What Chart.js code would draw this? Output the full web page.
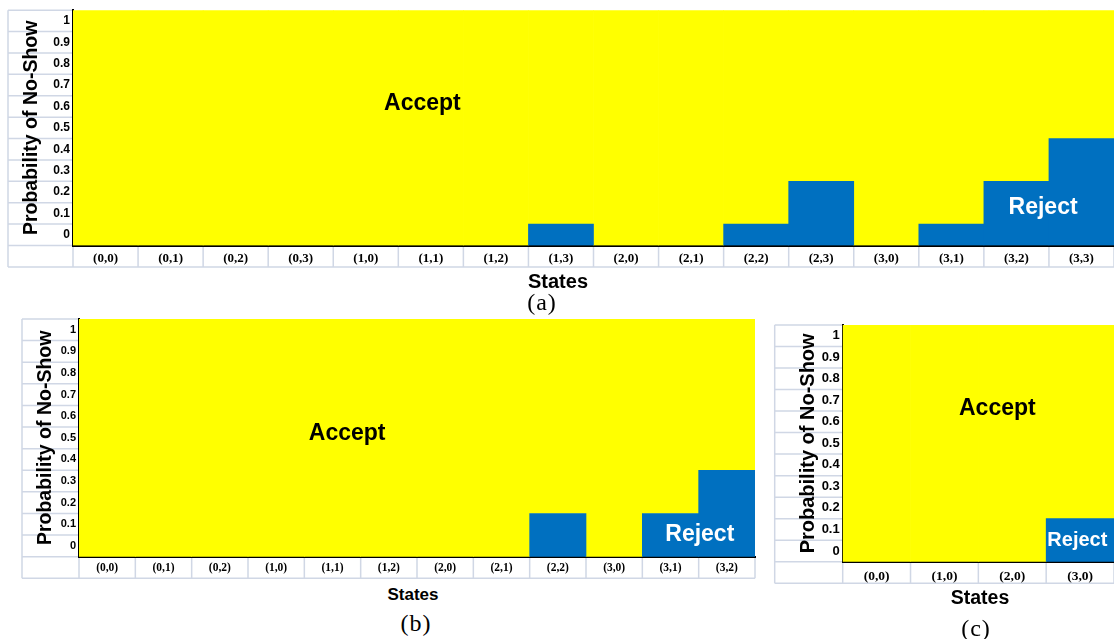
<!DOCTYPE html>
<html>
<head>
<meta charset="utf-8">
<script src="https://cdn.jsdelivr.net/npm/chart.js@4.4.1/dist/chart.umd.min.js"></script>
<style>
  html, body { margin: 0; padding: 0; background: #fff; }
  #page { position: relative; width: 1114px; height: 639px; overflow: hidden; background: #fff; }
  .box { position: absolute; }
  .box canvas { display: block; }
  .txt { position: absolute; transform: translate(-50%, -50%); white-space: nowrap; line-height: 1; color: #000; }
  .axis-t { font-family: "Liberation Sans", Arial, sans-serif; font-weight: bold; }
  .cap { font-family: "Liberation Serif", "Times New Roman", serif; letter-spacing: 1px; }
</style>
</head>
<body>
<div id="page">
  <div class="box" style="left:0;top:0;"><canvas id="chartA" width="1114" height="272"></canvas></div>
  <div class="box" style="left:0;top:300px;"><canvas id="chartB" width="770" height="280"></canvas></div>
  <div class="box" style="left:770px;top:300px;"><canvas id="chartC" width="344" height="290"></canvas></div>

  <div class="txt axis-t" style="left:558px;top:281px;font-size:20px;">States</div>
  <div class="txt cap" style="left:542px;top:302px;font-size:24px;">(a)</div>
  <div class="txt axis-t" style="left:413px;top:594px;font-size:17px;">States</div>
  <div class="txt cap" style="left:416px;top:623px;font-size:24px;">(b)</div>
  <div class="txt axis-t" style="left:980px;top:598px;font-size:19.5px;">States</div>
  <div class="txt cap" style="left:976px;top:628px;font-size:24px;">(c)</div>
</div>

<script>
// Probability rows shown on the vertical axis
const yTicks = [0, 0.1, 0.2, 0.3, 0.4, 0.5, 0.6, 0.7, 0.8, 0.9, 1];
const yTickLabels = ['0', '0.1', '0.2', '0.3', '0.4', '0.5', '0.6', '0.7', '0.8', '0.9', '1'];

// (a) all sixteen states; reject threshold per state (null = always accept)
const statesA = ['(0,0)', '(0,1)', '(0,2)', '(0,3)', '(1,0)', '(1,1)', '(1,2)', '(1,3)',
                 '(2,0)', '(2,1)', '(2,2)', '(2,3)', '(3,0)', '(3,1)', '(3,2)', '(3,3)'];
const rejectA = [null, null, null, null, null, null, null, 0,
                 null, null, 0, 0.2, null, 0, 0.2, 0.4];

// (b) twelve states
const statesB = ['(0,0)', '(0,1)', '(0,2)', '(1,0)', '(1,1)', '(1,2)',
                 '(2,0)', '(2,1)', '(2,2)', '(3,0)', '(3,1)', '(3,2)'];
const rejectB = [null, null, null, null, null, null,
                 null, null, 0.1, null, 0.1, 0.3];

// (c) four states
const statesC = ['(0,0)', '(1,0)', '(2,0)', '(3,0)'];
const rejectC = [null, null, null, 0.1];

const HALF_ROW = 0.05;                       // each probability label owns a band of +-0.05
const Y_MIN = yTicks[0] - HALF_ROW;
const Y_MAX = yTicks[yTicks.length - 1] + HALF_ROW;
const ACCEPT_YELLOW = '#FFFF00';
const REJECT_BLUE = '#0070C0';
const GRID_GREY = '#D0D7E5';

Chart.defaults.font.family = '"Liberation Sans", Arial, sans-serif';
Chart.defaults.color = '#000';

// Spreadsheet-style cell rules around the tick column and the state row
const tableGrid = {
  id: 'tableGrid',
  beforeDraw(chart, args, opts) {
    const { ctx, chartArea: a, scales: { x, y } } = chart;
    const rowPx = Math.abs(y.getPixelForValue(0) - y.getPixelForValue(0.1));
    const left = y.left;
    const rowBottom = a.bottom + rowPx;
    ctx.save();
    ctx.strokeStyle = opts.color;
    ctx.lineWidth = opts.width;
    ctx.beginPath();
    const bounds = yTicks.map(t => t - HALF_ROW).concat([Y_MAX]);
    for (const b of bounds) {
      const py = y.getPixelForValue(b);
      ctx.moveTo(left, py);
      ctx.lineTo(a.left, py);
    }
    ctx.moveTo(left, rowBottom);
    ctx.lineTo(a.right, rowBottom);
    ctx.moveTo(left, a.top);
    ctx.lineTo(left, rowBottom);
    const n = chart.data.labels.length;
    for (let i = 0; i <= n; i++) {
      const px = x.getPixelForValue(i - 0.5);
      ctx.moveTo(px, a.bottom);
      ctx.lineTo(px, rowBottom);
    }
    ctx.stroke();
    ctx.restore();
  }
};

// "Accept" / "Reject" region names placed in scale coordinates
const regionLabels = {
  id: 'regionLabels',
  afterDatasetsDraw(chart, args, opts) {
    const { ctx, scales: { x, y } } = chart;
    ctx.save();
    ctx.textAlign = 'center';
    ctx.textBaseline = 'alphabetic';
    for (const it of opts.items || []) {
      ctx.font = 'bold ' + it.size + 'px "Liberation Sans", Arial, sans-serif';
      ctx.fillStyle = it.color;
      ctx.fillText(it.text, x.getPixelForValue(it.x), y.getPixelForValue(it.y) + it.size * 0.358);
    }
    ctx.restore();
  }
};

function makePanel(canvasId, states, reject, cfg) {
  return new Chart(document.getElementById(canvasId), {
    type: 'bar',
    data: {
      labels: states,
      datasets: [
        {
          label: 'Reject',
          data: reject.map(v => (v === null ? null : [Y_MIN, v + HALF_ROW])),
          backgroundColor: REJECT_BLUE,
          grouped: false,
          order: 0
        },
        {
          label: 'Accept',
          data: reject.map(v => [v === null ? Y_MIN : v + HALF_ROW, Y_MAX]),
          backgroundColor: ACCEPT_YELLOW,
          grouped: false,
          order: 1
        }
      ]
    },
    options: {
      responsive: false,
      animation: false,
      layout: { padding: cfg.pad },
      datasets: { bar: { categoryPercentage: 1, barPercentage: 1, borderWidth: 0 } },
      plugins: {
        legend: { display: false },
        tooltip: { enabled: false },
        tableGrid: { color: GRID_GREY, width: 1.5 },
        regionLabels: { items: cfg.labels }
      },
      scales: {
        x: {
          offset: true,
          grid: { display: false, drawTicks: false },
          border: { display: true, color: '#000', width: 2 },
          ticks: {
            font: { family: '"Liberation Serif", "Times New Roman", serif', weight: 'bold', size: cfg.xFont },
            color: '#000',
            padding: cfg.xPad,
            maxRotation: 0,
            autoSkip: false
          },
          afterFit: s => { s.height = cfg.xHeight; }
        },
        y: {
          min: Y_MIN,
          max: Y_MAX,
          afterBuildTicks: s => { s.ticks = yTicks.map(v => ({ value: v })); },
          grid: { display: false, drawTicks: false },
          border: { display: true, color: '#000', width: 2 },
          ticks: {
            callback: (v, i) => yTickLabels[i],
            font: { weight: 'bold', size: cfg.yFont },
            color: '#000',
            padding: 3
          },
          title: {
            display: true,
            text: 'Probability of No-Show',
            font: { weight: 'bold', size: cfg.titleFont },
            color: '#000',
            padding: { top: cfg.titlePad, bottom: 0 }
          },
          afterFit: s => { s.width = cfg.yWidth; }
        }
      }
    },
    plugins: [tableGrid, regionLabels]
  });
}

makePanel('chartA', statesA, rejectA, {
  pad: { left: 8, top: 9, right: 0, bottom: 0 },
  yWidth: 65, xHeight: 26.5, xFont: 13, xPad: 5, yFont: 12, titleFont: 19.5, titlePad: 12.3,
  labels: [
    { text: 'Accept', x: 4.87, y: 0.62, size: 23, color: '#000' },
    { text: 'Reject', x: 14.41, y: 0.134, size: 23, color: '#fff' }
  ]
});

makePanel('chartB', statesB, rejectB, {
  pad: { left: 22, top: 19, right: 15, bottom: 0 },
  yWidth: 57, xHeight: 23.3, xFont: 11.5, xPad: 4.5, yFont: 11, titleFont: 19.5, titlePad: 12.3,
  labels: [
    { text: 'Accept', x: 4.26, y: 0.53, size: 23, color: '#000' },
    { text: 'Reject', x: 10.52, y: 0.06, size: 23, color: '#fff' }
  ]
});

makePanel('chartC', statesC, rejectC, {
  pad: { left: 4.7, top: 25, right: 0, bottom: 0 },
  yWidth: 68, xHeight: 28.3, xFont: 13.5, xPad: 6.5, yFont: 13, titleFont: 20, titlePad: 21.6,
  labels: [
    { text: 'Accept', x: 1.78, y: 0.669, size: 23, color: '#000' },
    { text: 'Reject', x: 2.96, y: 0.055, size: 20, color: '#fff' }
  ]
});
</script>
</body>
</html>
